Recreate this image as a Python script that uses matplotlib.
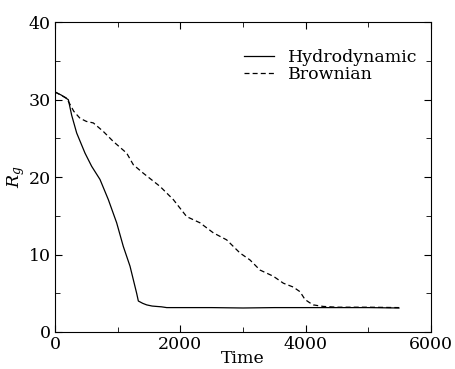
import matplotlib
matplotlib.use("Agg")
import matplotlib.pyplot as plt
from matplotlib.ticker import MultipleLocator

plt.rcParams['font.family'] = ['DejaVu Serif']
plt.rcParams['mathtext.fontset'] = 'dejavuserif'

hydro_t = [0, 100, 213, 266, 346, 479, 585, 718, 851, 984, 1090, 1197, 1303, 1330,
           1400, 1463, 1550, 1622, 1700, 1782, 2000, 2500, 3000, 3500, 4000, 4500, 5000, 5489]
hydro_r = [31.0, 30.6, 30.0, 28.0, 25.7, 23.1, 21.4, 19.7, 17.1, 14.1, 11.05, 8.5, 5.0, 4.0,
           3.7, 3.5, 3.35, 3.3, 3.25, 3.15, 3.15, 3.15, 3.1, 3.15, 3.15, 3.15, 3.15, 3.1]

brown_t = [0, 186, 300, 399, 500, 612, 771, 931, 1144, 1250, 1410, 1676, 1888, 2101, 2314,
           2527, 2739, 2952, 3112, 3271, 3484, 3644, 3803, 3910, 3989, 4060, 4122, 4200,
           4282, 4500, 5000, 5489]
brown_r = [31.0, 30.2, 28.5, 27.6, 27.2, 27.0, 25.9, 24.6, 23.1, 21.6, 20.5, 18.8, 17.1, 14.9, 14.1,
           12.8, 11.9, 10.2, 9.3, 8.0, 7.2, 6.3, 5.8, 5.2, 4.2, 3.8, 3.5, 3.4,
           3.3, 3.2, 3.2, 3.15]

fig = plt.figure(figsize=(4.56, 3.69), dpi=100)
ax = fig.add_axes([0.1206, 0.1003, 0.8246, 0.8393])
ax.plot(hydro_t, hydro_r, color='black', lw=0.9, label='Hydrodynamic')
ax.plot(brown_t, brown_r, color='black', lw=0.9, ls=(0, (4, 2.5)), label='Brownian')
ax.set_xlim(0, 6000)
ax.set_ylim(0, 40)
ax.xaxis.set_major_locator(MultipleLocator(2000))
ax.xaxis.set_minor_locator(MultipleLocator(1000))
ax.yaxis.set_major_locator(MultipleLocator(10))
ax.yaxis.set_minor_locator(MultipleLocator(5))
ax.tick_params(which='both', direction='in', top=True, right=True, labelsize=12.5, pad=3)
ax.tick_params(which='major', length=5)
ax.tick_params(which='minor', length=3.5)
ax.set_xlabel('Time', fontsize=12.5, labelpad=-2)
ax.set_ylabel(r'$R_g$', fontsize=12.5, labelpad=1)
ax.legend(loc='upper right', frameon=False, fontsize=12.5, handlelength=1.7,
          bbox_to_anchor=(1.005, 0.965), labelspacing=0.0, handletextpad=0.8)
fig.savefig('out.png', dpi=100)
